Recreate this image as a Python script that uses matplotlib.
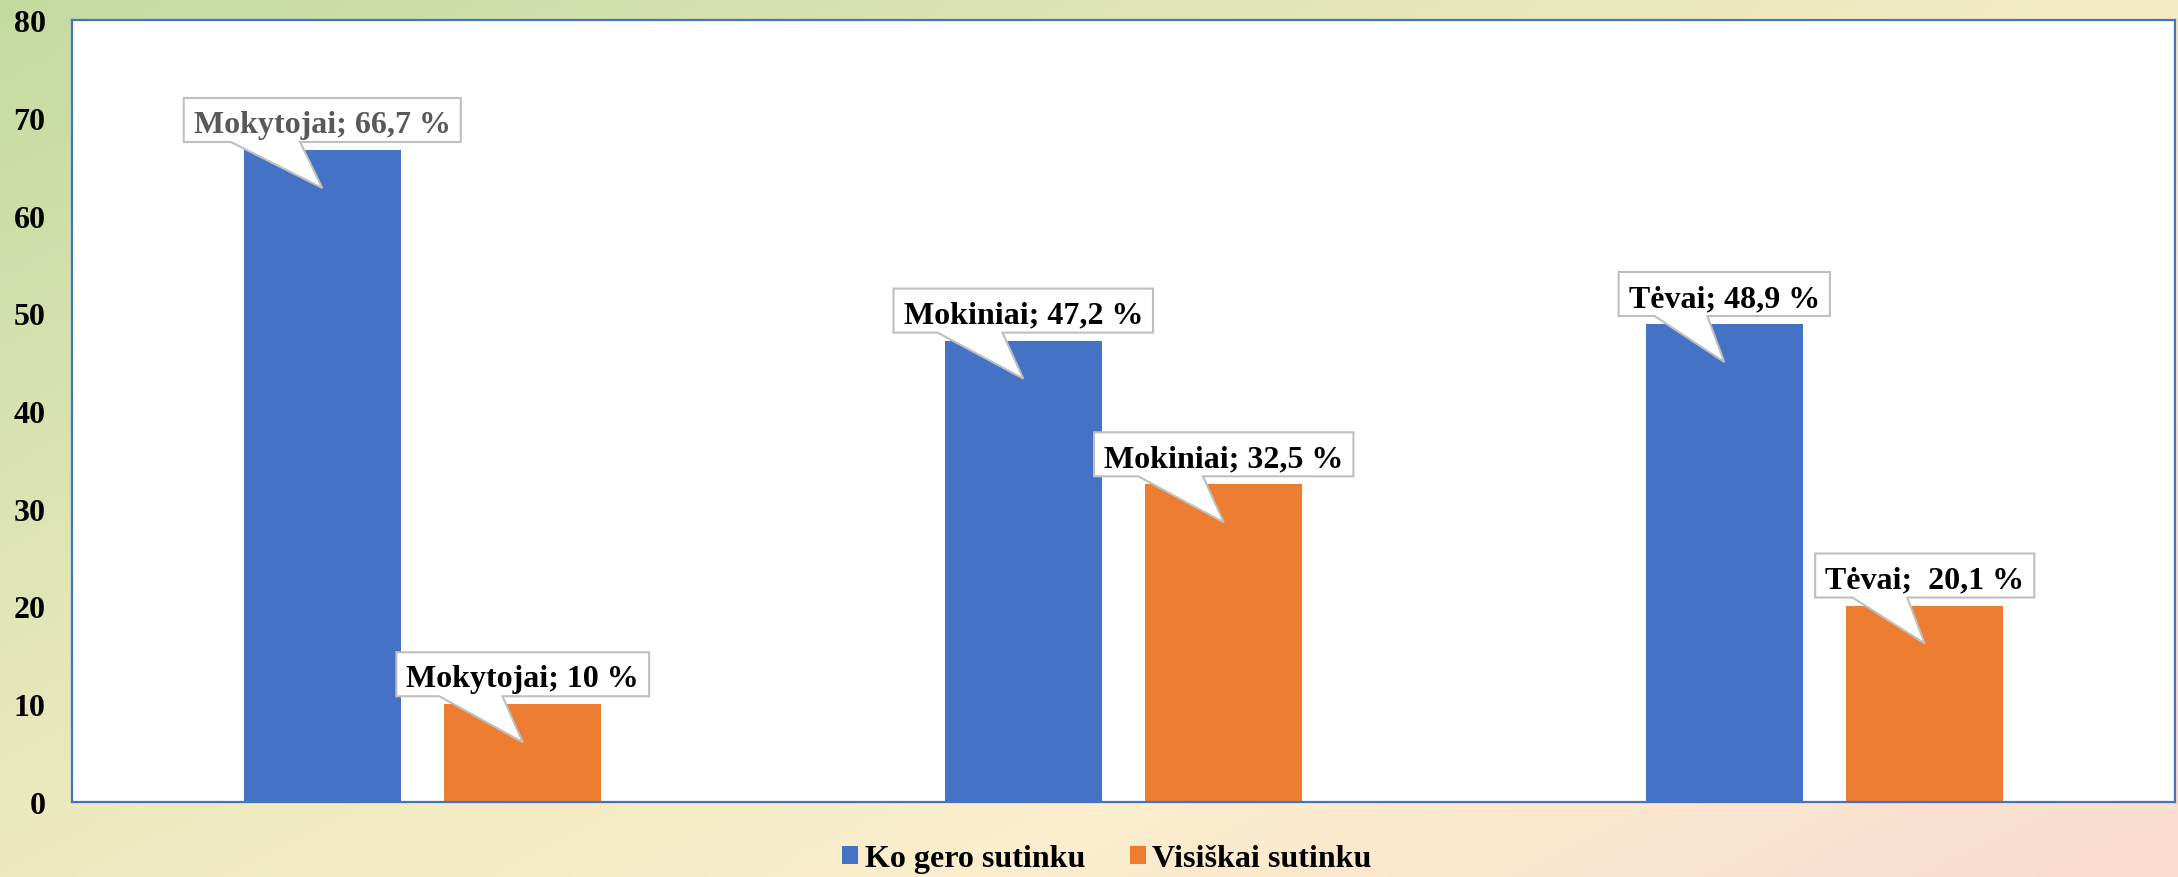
import numpy as np
import matplotlib
matplotlib.use('Agg')
import matplotlib.pyplot as plt
from matplotlib.colors import LinearSegmentedColormap
from matplotlib.patches import Polygon, Patch
from matplotlib.transforms import IdentityTransform

# Chart data
GROUPS = ['Mokytojai', 'Mokiniai', 'Tėvai']
SERIES = ['Ko gero sutinku', 'Visiškai sutinku']
KO_GERO = [66.7, 47.2, 48.9]
VISISKAI = [10, 32.5, 20.1]
LABELS_KO_GERO = ['Mokytojai; 66,7 %', 'Mokiniai; 47,2 %', 'Tėvai; 48,9 %']
LABELS_VISISKAI = ['Mokytojai; 10 %', 'Mokiniai; 32,5 %', 'Tėvai;  20,1 %']
Y_TICKS = [0, 10, 20, 30, 40, 50, 60, 70, 80]

BLUE = '#4472C4'
ORANGE = '#ED7D31'
FONT = 'Liberation Serif'
W, H, DPI = 2178, 878, 100


def draw_background(fig):
    """Diagonal green -> cream -> peach gradient behind everything."""
    bg = fig.add_axes([0, 0, 1, 1], zorder=-10)
    xx, yy = np.meshgrid(np.linspace(0, 1, 400), np.linspace(0, 1, 160))
    t = 0.55 * xx + 0.45 * yy
    cmap = LinearSegmentedColormap.from_list('bg', [
        (0.0, '#C4DBA0'), (0.45, '#EEEAC0'), (0.7, '#FCEECE'), (1.0, '#FADCD0')])
    bg.imshow(t, cmap=cmap, aspect='auto', extent=[0, 1, 0, 1],
              origin='upper', vmin=0, vmax=1)
    bg.axis('off')


def draw_callout(ax, renderer, x, value, text_obj, color_edge='#BFBFBF'):
    """Box with a speech-bubble pointer ending inside the bar."""
    bb = text_obj.get_window_extent(renderer)
    px, py = ax.transData.transform((x, value))
    w = bb.width + 20
    left = px - w / 2
    right = px + w / 2
    bottom = py + 8
    top = bottom + 44
    tip = (px, py - 38)
    verts = [(left, bottom), (left + 0.17 * w, bottom), tip,
             (left + 0.42 * w, bottom), (right, bottom), (right, top),
             (left, top)]
    poly = Polygon(verts, closed=True, transform=IdentityTransform(),
                   facecolor='white', edgecolor=color_edge, linewidth=1.5,
                   zorder=4, clip_on=False)
    ax.add_artist(poly)


def main():
    fig = plt.figure(figsize=(W / DPI, H / DPI), dpi=DPI)
    draw_background(fig)

    ax = fig.add_axes([72 / W, (H - 803) / H, (2175 - 72) / W, (803 - 21) / H])
    ax.set_facecolor('white')

    x = np.arange(len(GROUPS))
    width = 0.224
    off = 0.143
    ax.bar(x - off, KO_GERO, width, color=BLUE, zorder=2)
    ax.bar(x + off, VISISKAI, width, color=ORANGE, zorder=2)

    ax.set_xlim(-0.5, len(GROUPS) - 0.5)
    ax.set_ylim(0, 80)
    ax.set_xticks([])
    ax.set_yticks(Y_TICKS)
    ax.set_yticklabels([str(v) for v in Y_TICKS], fontfamily=FONT,
                       fontweight='bold', fontsize=23)
    ax.tick_params(axis='y', length=0, pad=19)
    for sp in ax.spines.values():
        sp.set_color(BLUE)
        sp.set_linewidth(1.6)
        sp.set_zorder(3)

    # data labels
    texts = []
    for i in range(len(GROUPS)):
        for xpos, val, lab in [(x[i] - off, KO_GERO[i], LABELS_KO_GERO[i]),
                               (x[i] + off, VISISKAI[i], LABELS_VISISKAI[i])]:
            color = '#595959' if (i == 0 and val == KO_GERO[0]) else 'black'
            t = ax.annotate(lab, xy=(xpos, val), xytext=(0, 18),
                            textcoords='offset pixels', ha='center',
                            va='baseline', fontfamily=FONT, fontweight='bold',
                            fontsize=23, color=color, zorder=5,
                            annotation_clip=False)
            texts.append((xpos, val, t))

    fig.canvas.draw()
    renderer = fig.canvas.get_renderer()
    for xpos, val, t in texts:
        draw_callout(ax, renderer, xpos, val, t)

    handles = [Patch(facecolor=BLUE, label=SERIES[0]),
               Patch(facecolor=ORANGE, label=SERIES[1])]
    fig.legend(handles=handles, loc='center', ncol=2, frameon=False,
               bbox_to_anchor=(1107 / W, 1 - 860 / H),
               prop={'family': FONT, 'weight': 'bold', 'size': 23},
               handlelength=0.5, handleheight=0.5, handletextpad=0.2,
               columnspacing=1.4)

    fig.savefig('out.png', dpi=DPI)


if __name__ == "__main__":
    main()
